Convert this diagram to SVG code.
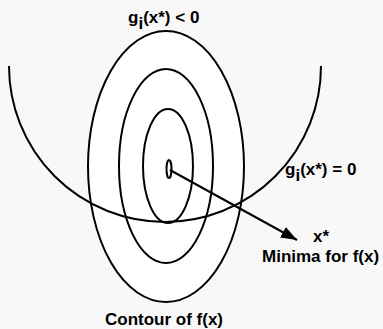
<svg xmlns="http://www.w3.org/2000/svg" width="383" height="329" viewBox="0 0 383 329">
  <style>
    .c { fill: #ffffff; stroke: #000000; stroke-width: 2; }
    .ln { fill: none; stroke: #000000; stroke-width: 2; }
    .t { font-family: "Liberation Sans", Arial, sans-serif; font-weight: bold; font-size: 17px; fill: #000000; }
  </style>
  <defs>
    <marker id="ah" markerWidth="10" markerHeight="8" refX="9" refY="4" orient="auto" markerUnits="userSpaceOnUse" viewBox="0 0 10 8">
      <path d="M0,0 L10,4 L0,8 Z" fill="#000"/>
    </marker>
    <marker id="ah2" viewBox="0 0 16 12" refX="16" refY="6" markerWidth="16" markerHeight="12" orient="auto" markerUnits="userSpaceOnUse">
      <path d="M0,0 L16,6 L0,12 Z" fill="#000"/>
    </marker>
  </defs>
  <rect x="0" y="0" width="383" height="329" fill="#f8f8f8"/>
  <g id="contour">
    <ellipse id="c1" class="c" cx="166" cy="166.5" rx="78" ry="135.5"/>
    <ellipse id="c2" class="c" cx="166" cy="166" rx="47" ry="97"/>
    <ellipse id="c3" class="c" cx="168" cy="166" rx="25" ry="57"/>
    <ellipse id="c4" class="c" cx="169" cy="169" rx="2.5" ry="9"/>
  </g>
  <g id="connectors">
    <path id="constraint" class="ln" d="M9,66 A156,156 0 0 0 321,66"/>
    <line id="arrow" class="ln" x1="170" y1="170" x2="297" y2="240" marker-end="url(#ah2)"/>
  </g>
  <g id="labels">
    <text class="t" x="128" y="23">g<tspan dy="6">i</tspan><tspan dy="-6">(x*) &lt; 0</tspan></text>
    <text class="t" x="285" y="175">g<tspan dy="6">i</tspan><tspan dy="-6">(x*) = 0</tspan></text>
    <text class="t" x="313" y="242">x*</text>
    <text class="t" x="262" y="262">Minima for f(x)</text>
    <text class="t" x="105" y="325">Contour of f(x)</text>
  </g>
</svg>
